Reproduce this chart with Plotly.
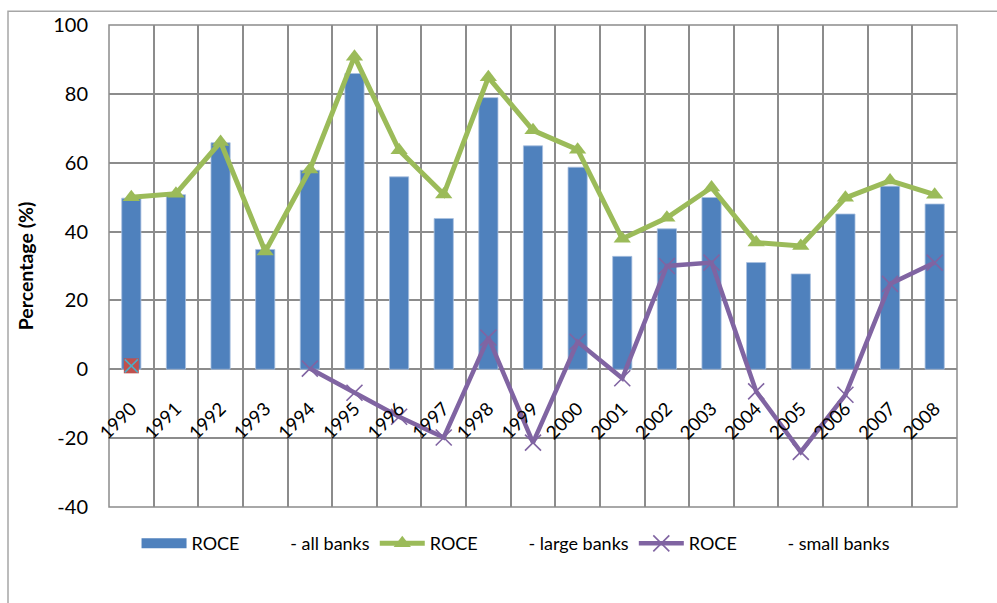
import plotly.graph_objects as go

# ROCE by year
years = [str(y) for y in range(1990, 2009)]
roce_all = [49.7, 50.7, 65.8, 34.8, 57.8, 85.9, 55.9, 43.8, 78.9, 64.9,
            58.7, 32.8, 40.8, 49.9, 31.0, 27.7, 45.1, 53.2, 48.0]
roce_large = [50.0, 51.0, 66.0, 34.2, 58.0, 90.8, 63.6, 50.8, 84.8, 69.4,
              63.8, 37.9, 44.0, 52.8, 36.8, 35.8, 49.8, 54.8, 50.7]
roce_small = [None, None, None, None, 0.2, -6.8, -13.8, -19.8, 9.2, -21.3,
              8.0, -2.6, 30.0, 31.0, -6.4, -24.0, -7.4, 24.8, 31.0]
# stray points plotted at 1990
extra_years = ["1990"]
extra_vals = [1.0]

y_ticks = [-40, -20, 0, 20, 40, 60, 80, 100]
y_labels = ["-40", "-20", "0", "20", "40", "60", "80", "100"]

BLUE = "#4F81BD"
GREEN = "#9BBB59"
PURPLE = "#8064A2"
GRID = "#8C8C8C"
FONT = "Lato, Carlito, Calibri, sans-serif"

gap = "\u00a0" * 11
fig = go.Figure()
# legend swatch for the bar series (wide rectangle)
fig.add_trace(go.Scatter(
    x=[None], y=[None], name="ROCE" + gap + "- all banks", mode="lines",
    line=dict(color=BLUE, width=12),
))
fig.add_trace(go.Bar(
    x=years, y=roce_all, name="ROCE - all banks", showlegend=False,
    marker=dict(color=BLUE, line=dict(color="#A9C0E0", width=0.8)),
))
fig.add_trace(go.Scatter(
    x=years, y=roce_large, name="ROCE" + gap + "- large banks",
    mode="lines+markers",
    line=dict(color=GREEN, width=5),
    marker=dict(symbol="triangle-up", size=15, color=GREEN),
))
fig.add_trace(go.Scatter(
    x=years, y=roce_small, name="ROCE" + gap + "- small banks",
    mode="lines+markers",
    line=dict(color=PURPLE, width=4.5),
    marker=dict(symbol="x-thin", size=16, color=PURPLE,
                line=dict(color=PURPLE, width=1.6)),
))
fig.add_trace(go.Scatter(
    x=extra_years, y=extra_vals, mode="markers", showlegend=False,
    marker=dict(symbol="square", size=15, color="#C0504D"),
))
fig.add_trace(go.Scatter(
    x=extra_years, y=extra_vals, mode="markers", showlegend=False,
    marker=dict(symbol="x-thin", size=13, color="#4BACC6",
                line=dict(color="#4BACC6", width=1.6)),
))

fig.update_layout(
    width=997, height=603,
    margin=dict(l=109, r=40, t=20, b=96),
    paper_bgcolor="white", plot_bgcolor="white",
    font=dict(family=FONT, color="black"),
    bargap=0.57,
    showlegend=True,
    legend=dict(
        orientation="h", x=0.48, xanchor="center", y=-0.076, yanchor="middle",
        font=dict(size=18, family=FONT), itemwidth=45,
        bgcolor="rgba(0,0,0,0)",
    ),
    xaxis=dict(
        type="category", range=[-0.5, 18.5],
        anchor="free", position=40 / 140,
        tickson="boundaries", ticks="", showgrid=True,
        gridcolor=GRID, gridwidth=1.5,
        tickangle=-45, tickfont=dict(size=18.5, family=FONT),
        ticklabelstandoff=24,
        showline=False, zeroline=False,
    ),
    yaxis=dict(
        range=[-40, 100], tickvals=y_ticks, ticktext=y_labels,
        showgrid=True, gridcolor=GRID, gridwidth=1.5,
        zeroline=True, zerolinecolor=GRID, zerolinewidth=1.5,
        ticks="", ticklabelstandoff=20,
        tickfont=dict(size=20, family=FONT),
        title=dict(text="<b>Percentage (%)</b>", font=dict(size=19.5, family=FONT),
                   standoff=14),
        showline=False,
    ),
    shapes=[
        # plot-area frame
        dict(type="rect", xref="paper", yref="paper", x0=0, x1=1, y0=0, y1=1,
             line=dict(color=GRID, width=1.5), layer="below"),
        # chart-area border
        dict(type="rect", xref="paper", yref="paper",
             x0=-101 / 848, x1=1.2, y0=-0.3, y1=(507 - 6) / 487,
             line=dict(color="#A6A6A6", width=1.5), layer="below"),
    ],
)

fig.write_html("out.html")
